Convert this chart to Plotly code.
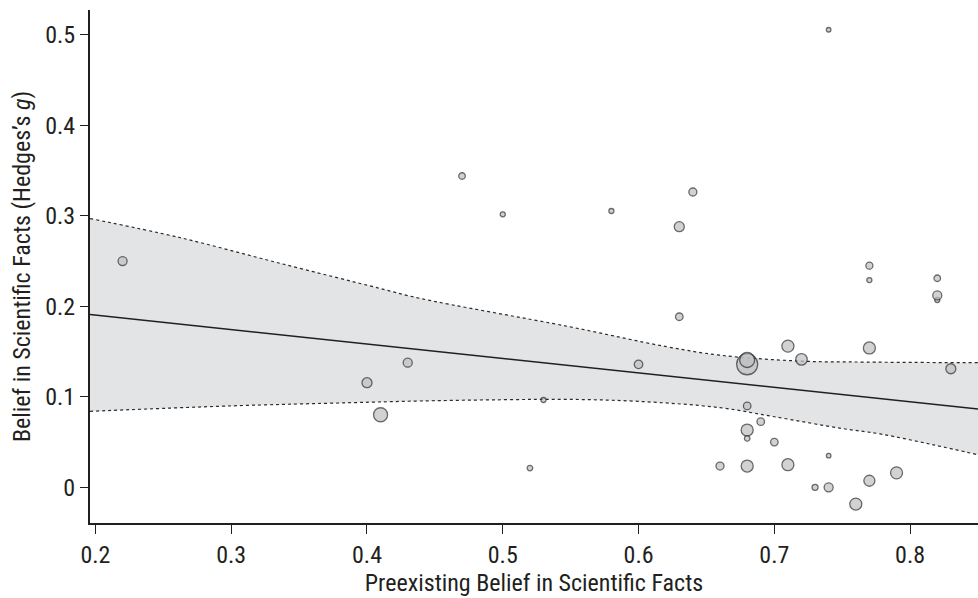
import plotly.graph_objects as go

# Study-level points: preexisting belief (x), effect size g (y), marker diameter (weight)
study_x = [0.68, 0.68, 0.22, 0.40, 0.43, 0.41, 0.47, 0.50, 0.58, 0.64, 0.63, 0.63, 0.60, 0.53,
           0.52, 0.66, 0.71, 0.72, 0.77, 0.83, 0.68, 0.69, 0.68, 0.68, 0.70, 0.74, 0.68,
           0.71, 0.79, 0.77, 0.73, 0.74, 0.76, 0.74, 0.77, 0.77, 0.82, 0.82, 0.82]
study_g = [0.136, 0.1407, 0.250, 0.1156, 0.1377, 0.0802, 0.344, 0.3017, 0.3053, 0.3263, 0.288,
           0.1885, 0.1359, 0.0965, 0.0213, 0.0235, 0.156, 0.1414, 0.154, 0.131, 0.090, 0.0725,
           0.0633, 0.054, 0.050, 0.035, 0.0235, 0.025, 0.016, 0.0073, 0.0, 0.0, -0.0185, 0.5056,
           0.2449, 0.229, 0.231, 0.207, 0.212]
study_size = [21, 15, 9, 10, 9, 14, 6.5, 5, 5, 8, 10, 7.5, 8.5, 5, 5.5, 8, 12, 11.5, 12, 10,
              7.5, 7.5, 12, 5.5, 7.5, 4.5, 12, 12, 12, 11, 6, 9, 12, 4.5, 7, 5, 6.5, 5, 9]

# Meta-regression line (endpoints)
fit_x = [0.196, 0.85]
fit_y = [0.191, 0.0865]

# Confidence band boundaries
upper_x = [0.196, 0.262, 0.336, 0.409, 0.439, 0.549, 0.6206, 0.660, 0.7188, 0.768, 0.85]
upper_y = [0.297, 0.276, 0.2475, 0.220, 0.2088, 0.1775, 0.1554, 0.146, 0.1395, 0.1384, 0.1377]
lower_x = [0.196, 0.30, 0.3875, 0.439, 0.50, 0.549, 0.60, 0.66, 0.70, 0.75, 0.778, 0.817, 0.85]
lower_y = [0.084, 0.090, 0.0935, 0.0954, 0.0968, 0.0972, 0.095, 0.088, 0.078, 0.065, 0.059, 0.047, 0.036]

x_ticks = [0.2, 0.3, 0.4, 0.5, 0.6, 0.7, 0.8]
y_ticks = [0, 0.1, 0.2, 0.3, 0.4, 0.5]

FONT = "Liberation Sans Narrow, Roboto Condensed, Arial Narrow, Liberation Sans, sans-serif"
INK = "#231f20"

fig = go.Figure()
fig.add_trace(go.Scatter(x=lower_x, y=lower_y, mode="lines", line=dict(color="#2a2a2a", width=1.2, dash="3px,3px", shape="spline"),
                         hoverinfo="skip", showlegend=False))
fig.add_trace(go.Scatter(x=upper_x, y=upper_y, mode="lines", fill="tonexty", fillcolor="#e3e4e6",
                         line=dict(color="#2a2a2a", width=1.2, dash="3px,3px", shape="spline"),
                         hoverinfo="skip", showlegend=False))
fig.add_trace(go.Scatter(x=fit_x, y=fit_y, mode="lines", line=dict(color=INK, width=1.5),
                         hoverinfo="skip", showlegend=False))
fig.add_trace(go.Scatter(x=study_x, y=study_g, mode="markers",
                         marker=dict(size=study_size, color="#bfc0c2", line=dict(color="#2a2a2a", width=1.3)),
                         showlegend=False))

fig.update_layout(
    width=978, height=598,
    margin=dict(l=90, r=0, t=10, b=75),
    paper_bgcolor="white", plot_bgcolor="white",
    font=dict(family=FONT, size=24, color=INK),
    showlegend=False,
)
fig.update_xaxes(range=[0.196, 0.85], tickvals=x_ticks, ticktext=[f"{v:.1f}" for v in x_ticks],
                 showgrid=False, zeroline=False, showline=True, linecolor=INK, linewidth=2,
                 ticks="outside", ticklen=9, tickwidth=1.2, tickcolor=INK, automargin=False,
                 title=dict(text="Preexisting Belief in Scientific Facts", standoff=6, font=dict(size=24)))
fig.update_yaxes(range=[-0.0394, 0.5274], tickvals=y_ticks, ticktext=["0"] + [f"{v:.1f}" for v in y_ticks[1:]],
                 showgrid=False, zeroline=False, showline=True, linecolor=INK, linewidth=2,
                 ticks="outside", ticklen=8, tickwidth=1.2, tickcolor=INK, automargin=False,
                 title=dict(text="Belief in Scientific Facts (Hedges\u2019s <i>g</i>)", standoff=8, font=dict(size=24)))

fig.write_html("out.html")
